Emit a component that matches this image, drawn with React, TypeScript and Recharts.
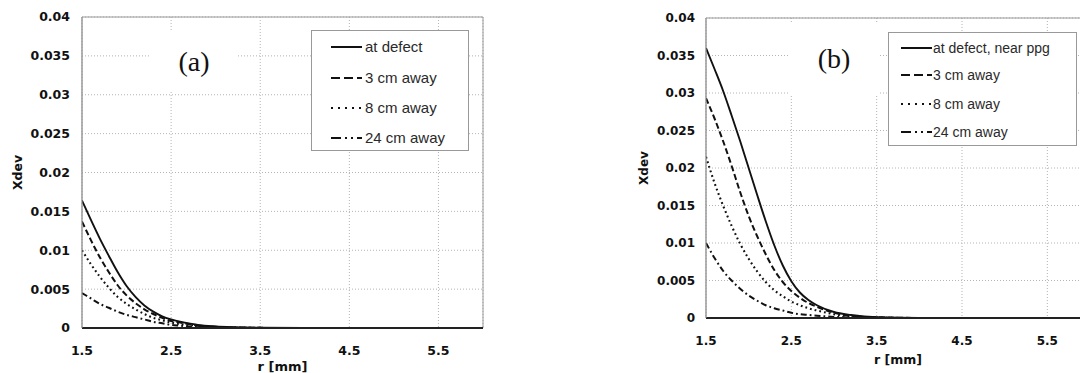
import React from 'react';
import { LineChart, Line, XAxis, YAxis, CartesianGrid, ReferenceArea } from 'recharts';

// radius r [mm]
const rValues = [1.5, 1.6, 1.7, 1.8, 1.9, 2.0, 2.1, 2.2, 2.3, 2.4, 2.5, 2.6, 2.7, 2.8, 3.0, 3.2, 3.5, 4.0, 5.0, 6.0];

// panel (a)
const aAtDefect = [0.0164, 0.0139, 0.0115, 0.0093, 0.0072, 0.0054, 0.004, 0.0029, 0.0021, 0.0015, 0.0011, 0.0008, 0.0006, 0.0004, 0.0002, 0.0001, 0.00003, 0, 0, 0];
const a3cm = [0.0137, 0.0113, 0.0091, 0.0072, 0.0055, 0.0042, 0.0032, 0.0024, 0.0018, 0.0013, 0.0009, 0.0007, 0.0005, 0.0003, 0.00015, 0.00007, 0.00002, 0, 0, 0];
const a8cm = [0.01, 0.0082, 0.0066, 0.0052, 0.004, 0.0031, 0.0024, 0.0018, 0.0013, 0.001, 0.0007, 0.0005, 0.0004, 0.0003, 0.0001, 0.00005, 0.00001, 0, 0, 0];
const a24cm = [0.0045, 0.0038, 0.0031, 0.0026, 0.0021, 0.0017, 0.0014, 0.0011, 0.0008, 0.0006, 0.0004, 0.0003, 0.0002, 0.00015, 0.00008, 0.00004, 0.00001, 0, 0, 0];

// panel (b)
const bAtDefect = [0.036, 0.0332, 0.0303, 0.027, 0.0236, 0.02, 0.0164, 0.0129, 0.0097, 0.007, 0.0049, 0.0034, 0.0024, 0.0017, 0.0008, 0.0004, 0.0001, 0.00001, 0, 0];
const b3cm = [0.0293, 0.0266, 0.0236, 0.0203, 0.0168, 0.0136, 0.0109, 0.0085, 0.0064, 0.0048, 0.0036, 0.0027, 0.002, 0.0015, 0.0007, 0.0003, 0.0001, 0.00001, 0, 0];
const b8cm = [0.0215, 0.018, 0.015, 0.0123, 0.0099, 0.0079, 0.0062, 0.0048, 0.0037, 0.0029, 0.0022, 0.0017, 0.0013, 0.001, 0.0005, 0.0002, 0.00005, 0, 0, 0];
const b24cm = [0.01, 0.008, 0.0063, 0.005, 0.0039, 0.003, 0.0023, 0.0017, 0.0013, 0.001, 0.0007, 0.0005, 0.0004, 0.0003, 0.00015, 0.00007, 0.00002, 0, 0, 0];

const legendA = ['at defect', '3 cm away', '8 cm away', '24 cm away'];
const legendB = ['at defect, near ppg', '3 cm away', '8 cm away', '24 cm away'];

const xTicks = [1.5, 2.5, 3.5, 4.5, 5.5];
const yTicks = [0, 0.005, 0.01, 0.015, 0.02, 0.025, 0.03, 0.035, 0.04];
const xMinorTicks = [1.5, 1.7, 1.9, 2.1, 2.3, 2.5, 2.7, 2.9, 3.1, 3.3, 3.5, 3.7, 3.9, 4.1, 4.3, 4.5, 4.7, 4.9, 5.1, 5.3, 5.5, 5.7, 5.9];
const yMinorTicks = [
  0, 0.001, 0.002, 0.003, 0.004, 0.005, 0.006, 0.007, 0.008, 0.009,
  0.01, 0.011, 0.012, 0.013, 0.014, 0.015, 0.016, 0.017, 0.018, 0.019,
  0.02, 0.021, 0.022, 0.023, 0.024, 0.025, 0.026, 0.027, 0.028, 0.029,
  0.03, 0.031, 0.032, 0.033, 0.034, 0.035, 0.036, 0.037, 0.038, 0.039, 0.04,
];

const KEYS = ['s0', 's1', 's2', 's3'];
const lineStyles = [
  { dash: undefined, legendDash: undefined, width: 1.9 },
  { dash: '6 3', legendDash: '9 4', width: 2 },
  { dash: '1.8 3', legendDash: '2 5', width: 2.1 },
  { dash: '6 3 1.8 3', legendDash: '10 4 2 4 2 4', width: 2 },
];

const buildRows = (series: number[][]) =>
  rValues.map((r, i) => {
    const row: Record<string, number> = { r };
    series.forEach((s, k) => (row[KEYS[k]] = s[i]));
    return row;
  });

const dataA = buildRows([aAtDefect, a3cm, a8cm, a24cm]);
const dataB = buildRows([bAtDefect, b3cm, b8cm, b24cm]);

const tickFont = { fontFamily: 'DejaVu Sans', fontWeight: 'bold' as const, fill: '#111' };

interface PanelProps {
  data: Record<string, number>[];
  left: number;
  top: number;
  yAxisWidth: number;
  xAxisHeight: number;
  margin: { top: number; right: number; bottom: number; left: number };
  fontSize: number;
  yTickMargin: number;
  xLabelOffset: number;
  yLabelOffset: number;
}

const Panel: React.FC<PanelProps> = ({ data, left, top, yAxisWidth, xAxisHeight, margin, fontSize, yTickMargin, xLabelOffset, yLabelOffset }) => (
  <div style={{ position: 'absolute', left, top }}>
    <LineChart width={500} height={373} data={data} margin={margin}>
      <CartesianGrid stroke="#b4b4b4" strokeDasharray="1 2" />
      <ReferenceArea x1={1.5} x2={6} y1={0} y2={0.04} fill="none" stroke="#999" strokeWidth={1} ifOverflow="visible" />
      <XAxis
        xAxisId="minor"
        type="number"
        dataKey="r"
        domain={[1.5, 6]}
        ticks={xMinorTicks}
        mirror
        height={0}
        axisLine={false}
        tick={false}
        tickSize={4}
        tickLine={{ stroke: '#888' }}
        allowDataOverflow
      />
      <YAxis
        yAxisId="minor"
        type="number"
        domain={[0, 0.04]}
        ticks={yMinorTicks}
        mirror
        width={0}
        axisLine={false}
        tick={false}
        tickSize={3}
        tickLine={{ stroke: '#999' }}
        allowDataOverflow
      />
      <XAxis
        type="number"
        dataKey="r"
        domain={[1.5, 6]}
        ticks={xTicks}
        height={xAxisHeight}
        axisLine={{ stroke: '#222', strokeWidth: 2 }}
        tickLine={false}
        tickSize={0}
        tickMargin={18}
        tick={{ ...tickFont, fontSize }}
        allowDataOverflow
        label={{ value: 'r [mm]', position: 'insideBottom', offset: xLabelOffset, style: { ...tickFont, fontSize: fontSize + 0.5 } }}
      />
      <YAxis
        type="number"
        domain={[0, 0.04]}
        ticks={yTicks}
        width={yAxisWidth}
        axisLine={{ stroke: '#999' }}
        tickLine={false}
        tickSize={0}
        tickMargin={yTickMargin}
        tick={{ ...tickFont, fontSize }}
        allowDataOverflow
        label={{ value: 'Xdev', angle: -90, position: 'insideLeft', offset: yLabelOffset, style: { ...tickFont, fontSize, textAnchor: 'middle' } }}
      />
      {KEYS.map((k, i) => (
        <Line
          key={k}
          type="monotone"
          dataKey={k}
          stroke="#111"
          strokeWidth={lineStyles[i].width}
          strokeDasharray={lineStyles[i].dash}
          dot={false}
          isAnimationActive={false}
        />
      ))}
    </LineChart>
  </div>
);

interface LegendBoxProps {
  labels: string[];
  left: number;
  top: number;
  width: number;
  height: number;
  rowCenters: number[];
  sampleX: number;
  textX: number;
  fontSize: number;
}

const LegendBox: React.FC<LegendBoxProps> = ({ labels, left, top, width, height, rowCenters, sampleX, textX, fontSize }) => (
  <div
    style={{
      position: 'absolute',
      left,
      top,
      width,
      height,
      boxSizing: 'border-box',
      border: '1px solid #999',
      background: '#fff',
      fontFamily: '"Liberation Sans", Arial, sans-serif',
      fontSize,
      color: '#2a2a2a',
    }}
  >
    {labels.map((label, i) => (
      <div key={label} style={{ position: 'absolute', left: 0, top: rowCenters[i] - 10, height: 20, width: '100%' }}>
        <svg width={32} height={20} style={{ position: 'absolute', left: sampleX, top: 0 }}>
          <line x1={0} y1={10} x2={31} y2={10} stroke="#111" strokeWidth={2} strokeDasharray={lineStyles[i].legendDash} />
        </svg>
        <span style={{ position: 'absolute', left: textX, top: 0, lineHeight: '20px', whiteSpace: 'nowrap' }}>{label}</span>
      </div>
    ))}
  </div>
);

const Tag: React.FC<{ text: string; left: number; top: number; width: number; height: number }> = ({ text, left, top, width, height }) => (
  <div
    style={{
      position: 'absolute',
      left,
      top,
      width,
      height,
      background: '#fff',
      display: 'flex',
      alignItems: 'center',
      justifyContent: 'center',
      fontFamily: '"Liberation Serif", "Times New Roman", serif',
      fontSize: 28,
      color: '#111',
    }}
  >
    {text}
  </div>
);

export default function App() {
  return (
    <div style={{ position: 'fixed', left: 0, top: 0, width: 1080, height: 373, background: '#fff', overflow: 'hidden' }}>
      <Panel
        data={dataA}
        left={0}
        top={0}
        yAxisWidth={82}
        xAxisHeight={45}
        margin={{ top: 17, right: 17, bottom: 0, left: 0 }}
        fontSize={12.5}
        yTickMargin={12}
        xLabelOffset={2}
        yLabelOffset={18}
      />
      <Panel
        data={dataB}
        left={600}
        top={0}
        yAxisWidth={106}
        xAxisHeight={55}
        margin={{ top: 18, right: 10, bottom: 0, left: 0 }}
        fontSize={12}
        yTickMargin={11}
        xLabelOffset={9}
        yLabelOffset={44}
      />
      <Tag text="(a)" left={150} top={32} width={88} height={60} />
      <Tag text="(b)" left={790} top={23} width={88} height={71} />
      <LegendBox
        labels={legendA}
        left={311}
        top={30}
        width={158}
        height={121}
        rowCenters={[16, 47, 77, 107]}
        sampleX={19}
        textX={53}
        fontSize={15}
      />
      <LegendBox
        labels={legendB}
        left={888}
        top={32}
        width={189}
        height={114}
        rowCenters={[15, 42, 71, 99]}
        sampleX={12}
        textX={44}
        fontSize={14}
      />
    </div>
  );
}
